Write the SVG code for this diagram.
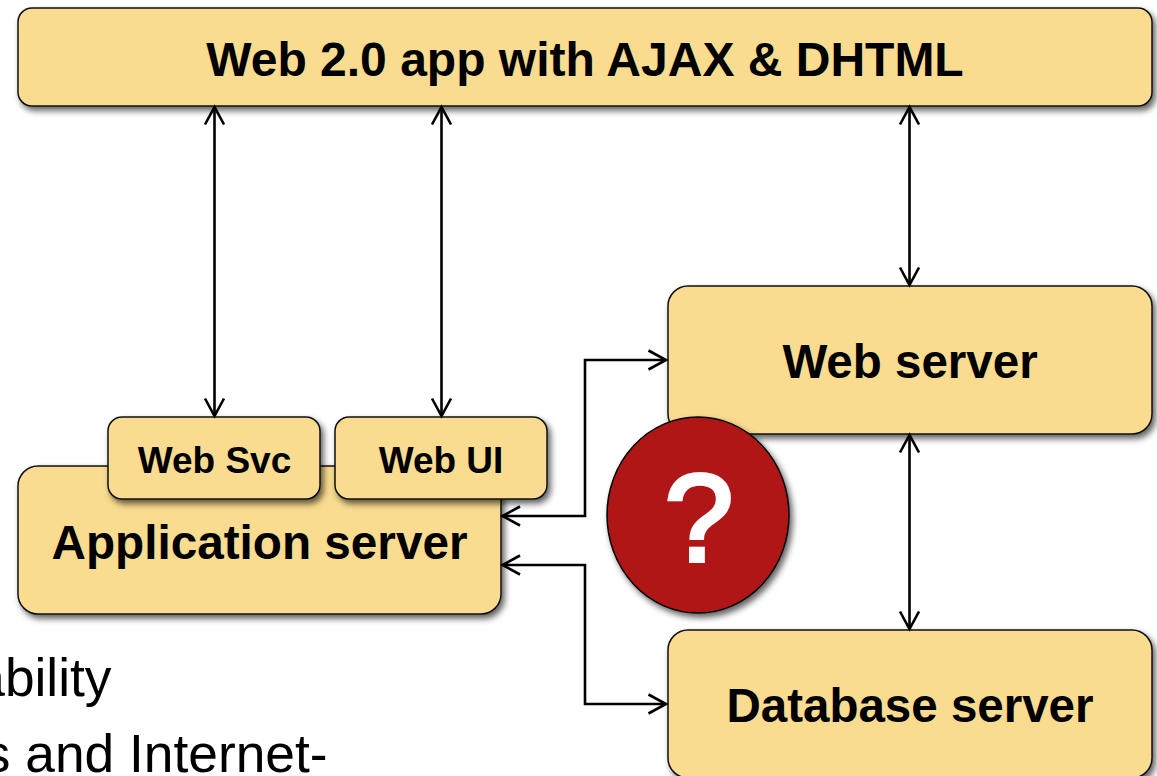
<svg xmlns="http://www.w3.org/2000/svg" width="1157" height="776" viewBox="0 0 1157 776">
<defs>
<filter id="sh" x="-10%" y="-15%" width="120%" height="135%"><feDropShadow dx="3" dy="4" stdDeviation="3.2" flood-color="#000" flood-opacity="0.62"/></filter>
<marker id="a" markerUnits="userSpaceOnUse" markerWidth="24" markerHeight="24" refX="20" refY="12" orient="auto-start-reverse"><path d="M2.5 2.5 L20 12 L2.5 21.5" fill="none" stroke="#000" stroke-width="2.6"/></marker>
</defs>
<style>
.b{fill:#f9dc90;stroke:#111;stroke-width:1.5;filter:url(#sh)}
.t{font-family:"Liberation Sans",Arial,sans-serif;font-weight:700;fill:#000;text-anchor:middle}
.c{fill:none;stroke:#000;stroke-width:2.6;marker-start:url(#a);marker-end:url(#a)}
.x{font-family:"Liberation Sans",Arial,sans-serif;font-size:53.3px;fill:#000;text-anchor:end}
</style>
<rect width="1157" height="776" fill="#fff"/>
<text class="x" x="111.500" y="696">ability</text>
<text class="x" x="327.500" y="772">s and Internet-</text>
<g id="app"><rect class="b" x="18" y="466" width="483" height="148" rx="20"/><text class="t" x="259.500" y="559" font-size="47.700">Application server</text></g>
<g id="websvc"><rect class="b" x="108" y="417" width="212" height="82" rx="14"/><text class="t" x="214.500" y="472.500" font-size="37">Web Svc</text></g>
<g id="webui"><rect class="b" x="335" y="417" width="212" height="82" rx="14"/><text class="t" x="441" y="472.500" font-size="37">Web UI</text></g>
<g id="top"><rect class="b" x="18" y="8" width="1134" height="98" rx="14"/><text class="t" x="585" y="76" font-size="48">Web 2.0 app with AJAX &amp; DHTML</text></g>
<g id="web"><rect class="b" x="668" y="286" width="484" height="148" rx="20"/><text class="t" x="910" y="378" font-size="47.500">Web server</text></g>
<g id="db"><rect class="b" x="668" y="630" width="484" height="148" rx="20"/><text class="t" x="910" y="722" font-size="47.500">Database server</text></g>
<g id="connectors">
<path class="c" d="M214.500 107V416"/>
<path class="c" d="M441.500 107V416"/>
<path class="c" d="M909.500 107V285"/>
<path class="c" d="M909.500 435V629"/>
<path class="c" d="M666 360H585V516H502.500"/>
<path class="c" d="M666 704H585V565H502.500"/>
</g>
<g id="question"><ellipse cx="698" cy="515" rx="91" ry="98" fill="#b11917" stroke="#000" stroke-width="1.5" filter="url(#sh)"/><text x="699" y="561" font-family="'Liberation Sans',Arial,sans-serif" font-size="124" fill="#fff" stroke="#fff" stroke-width="4" text-anchor="middle">?</text></g>
</svg>
